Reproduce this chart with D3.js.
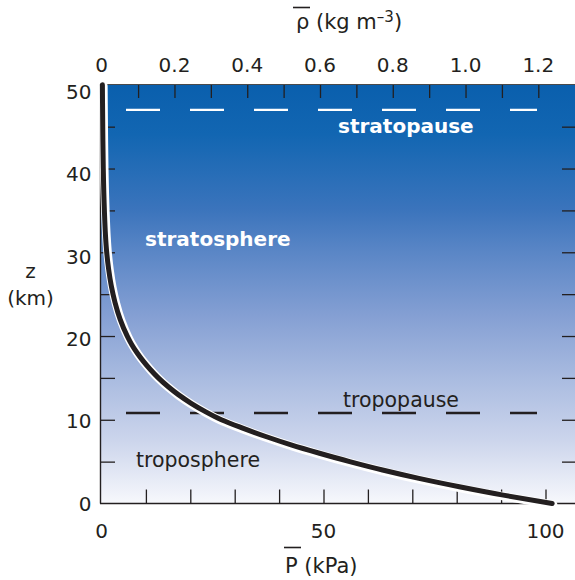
<!DOCTYPE html>
<html>
<head>
<meta charset="utf-8">
<script src="https://cdn.jsdelivr.net/npm/d3@7"></script>
<style>
  html, body { margin: 0; padding: 0; background: #ffffff; }
  svg { display: block; }
  text { font-family: "DejaVu Sans", sans-serif; fill: #231f20; }
</style>
</head>
<body>
<svg id="chart" width="575" height="580"></svg>
<script>
// ---- data ----
const heightKm    = [0, 1, 2, 3, 4, 5, 6, 7, 8, 9, 10, 11, 12, 13, 14, 15, 16, 17, 18, 19, 20, 22, 24, 26, 28, 30, 32, 35, 40, 45, 50];
const pressureKPa = [101.5, 90.5, 80.6, 71.5, 63.3, 55.9, 49.1, 42.7, 37.0, 31.8, 27.0, 23.3, 20.1, 17.3, 14.9, 12.8, 11.0, 9.4, 8.0, 6.8, 5.8, 4.2, 3.05, 2.2, 1.6, 1.17, 0.9, 0.65, 0.4, 0.28, 0.2];

const layerNames   = ["tropopause", "stratopause"];
const layerHeights = [10.8, 47];

const pressureTicks      = [10, 20, 30, 40, 50, 60, 70, 80, 90, 100];
const pressureTickLabels = ["0", "50", "100"];
const pressureLabelVals  = [0, 50, 100];
const densityTicks       = [0.1, 0.2, 0.3, 0.4, 0.5, 0.6, 0.7, 0.8, 0.9, 1.0, 1.1, 1.2];
const densityLabelVals   = [0, 0.2, 0.4, 0.6, 0.8, 1.0, 1.2];
const densityTickLabels  = ["0", "0.2", "0.4", "0.6", "0.8", "1.0", "1.2"];
const heightTicks        = [5, 10, 15, 20, 25, 30, 35, 40, 45];
const heightLabelVals    = [0, 10, 20, 30, 40, 50];
const heightTickLabels   = ["0", "10", "20", "30", "40", "50"];

// ---- layout ----
const plot = { left: 100, right: 575, top: 84, bottom: 503.5 };
const ink = "#231f20";

const svg = d3.select("#chart");

const xP   = d3.scaleLinear().domain([0, 100]).range([101.5, 545.5]);
const xRho = d3.scaleLinear().domain([0, 1.2]).range([101.7, 538.3]);
const yZ   = d3.scaleLinear().domain([0, 50]).range([plot.bottom, 84.8]);
const yZLabel = d3.scaleLinear().domain([0, 50]).range([503.3, 92]);

// background gradient
const defs = svg.append("defs");
const grad = defs.append("linearGradient").attr("id", "sky")
  .attr("x1", 0).attr("y1", 0).attr("x2", 0).attr("y2", 1);
[[0, "#0a5fad"], [0.12, "#1266b2"], [0.3, "#3b74bc"], [0.4, "#5a86c6"],
 [0.55, "#849fd3"], [0.7, "#a9bbe0"], [0.85, "#ccd5ec"], [1, "#f7f8fc"]]
  .forEach(([o, c]) => grad.append("stop").attr("offset", o).attr("stop-color", c));

svg.append("rect")
  .attr("x", plot.left).attr("y", plot.top)
  .attr("width", plot.right - plot.left).attr("height", plot.bottom - plot.top)
  .attr("fill", "url(#sky)");

// ticks via d3 axes (inward, no labels)
function styleAxis(g) {
  g.select(".domain").remove();
  g.selectAll(".tick line").attr("stroke", ink).attr("stroke-width", 1.3);
  g.selectAll(".tick text").remove();
}
svg.append("g").attr("transform", `translate(0,${plot.top})`)
  .call(d3.axisTop(xRho).tickValues(densityTicks).tickSize(-14)).call(styleAxis);
svg.append("g").attr("transform", `translate(0,${plot.bottom})`)
  .call(d3.axisBottom(xP).tickValues(pressureTicks).tickSize(-14)).call(styleAxis);
svg.append("g").attr("transform", `translate(${plot.left},0)`)
  .call(d3.axisLeft(yZ).tickValues(heightTicks).tickSize(-15)).call(styleAxis);
svg.append("g").attr("transform", `translate(${plot.right},0)`)
  .call(d3.axisRight(yZ).tickValues(heightTicks).tickSize(-13)).call(styleAxis);

// frame lines
svg.append("line").attr("x1", plot.left).attr("x2", plot.right)
  .attr("y1", plot.top + 0.5).attr("y2", plot.top + 0.5)
  .attr("stroke", "#4a4a4a").attr("stroke-width", 1.2);
svg.append("line").attr("x1", plot.left).attr("x2", plot.right)
  .attr("y1", plot.bottom).attr("y2", plot.bottom)
  .attr("stroke", ink).attr("stroke-width", 1.6);
svg.append("line").attr("x1", plot.left + 0.5).attr("x2", plot.left + 0.5)
  .attr("y1", plot.top).attr("y2", plot.bottom)
  .attr("stroke", ink).attr("stroke-width", 1.4);

// dashed layer boundaries
svg.selectAll("line.layer").data(layerNames).join("line")
  .attr("class", "layer")
  .attr("x1", 126).attr("x2", 537)
  .attr("y1", (d, i) => yZ(layerHeights[i])).attr("y2", (d, i) => yZ(layerHeights[i]))
  .attr("stroke", d => d === "stratopause" ? "#ffffff" : ink)
  .attr("stroke-width", d => d === "stratopause" ? 2.4 : 2.6)
  .attr("stroke-dasharray", "34,30");

// profile curve
const pts = heightKm.map((z, i) => [pressureKPa[i], z]);
const line = d3.line().x(d => xP(d[0])).y(d => yZ(d[1])).curve(d3.curveMonotoneY);
svg.append("path").attr("d", line(pts))
  .attr("transform", "translate(1,1.3)")
  .attr("fill", "none").attr("stroke", "#ffffff").attr("stroke-width", 8.5)
  .attr("stroke-linecap", "round");
svg.append("path").attr("d", line(pts))
  .attr("fill", "none").attr("stroke", ink).attr("stroke-width", 5)
  .attr("stroke-linecap", "round");

// tick labels
svg.selectAll("text.rho").data(densityLabelVals).join("text")
  .attr("class", "rho").attr("x", d => xRho(d)).attr("y", 71.7)
  .attr("text-anchor", "middle").attr("font-size", 20)
  .text((d, i) => densityTickLabels[i]);
svg.selectAll("text.pr").data(pressureLabelVals).join("text")
  .attr("class", "pr").attr("x", d => xP(d)).attr("y", 537.5)
  .attr("text-anchor", "middle").attr("font-size", 20)
  .text((d, i) => pressureTickLabels[i]);
svg.selectAll("text.zl").data(heightLabelVals).join("text")
  .attr("class", "zl").attr("x", 91.5).attr("y", d => yZLabel(d) + 7.2)
  .attr("text-anchor", "end").attr("font-size", 20)
  .text((d, i) => heightTickLabels[i]);

// axis titles
const rhoTitle = svg.append("text").attr("x", 296).attr("y", 29).attr("font-size", 21);
rhoTitle.append("tspan").text("ρ (kg m");
rhoTitle.append("tspan").attr("dy", -7).attr("font-size", 15).text("–3");
rhoTitle.append("tspan").attr("dy", 7).text(")");
svg.append("line").attr("x1", 293).attr("x2", 310).attr("y1", 7.5).attr("y2", 7.5)
  .attr("stroke", ink).attr("stroke-width", 1.6);

svg.append("text").attr("x", 285).attr("y", 572.5).attr("font-size", 21).text("P (kPa)");
svg.append("line").attr("x1", 284).attr("x2", 301).attr("y1", 547.5).attr("y2", 547.5)
  .attr("stroke", ink).attr("stroke-width", 1.6);

svg.append("text").attr("x", 30.5).attr("y", 278).attr("text-anchor", "middle")
  .attr("font-size", 20).text("z");
svg.append("text").attr("x", 30.5).attr("y", 305).attr("text-anchor", "middle")
  .attr("font-size", 20).text("(km)");

// region labels
svg.append("text").attr("x", 338).attr("y", 133.3).attr("font-size", 20)
  .attr("font-weight", "bold").style("fill", "#ffffff").text("stratopause");
svg.append("text").attr("x", 145).attr("y", 245.7).attr("font-size", 20)
  .attr("font-weight", "bold").style("fill", "#ffffff").text("stratosphere");
svg.append("text").attr("x", 343).attr("y", 406.7).attr("font-size", 20.5).text("tropopause");
svg.append("text").attr("x", 136).attr("y", 467.3).attr("font-size", 20.5).text("troposphere");
</script>
</body>
</html>
